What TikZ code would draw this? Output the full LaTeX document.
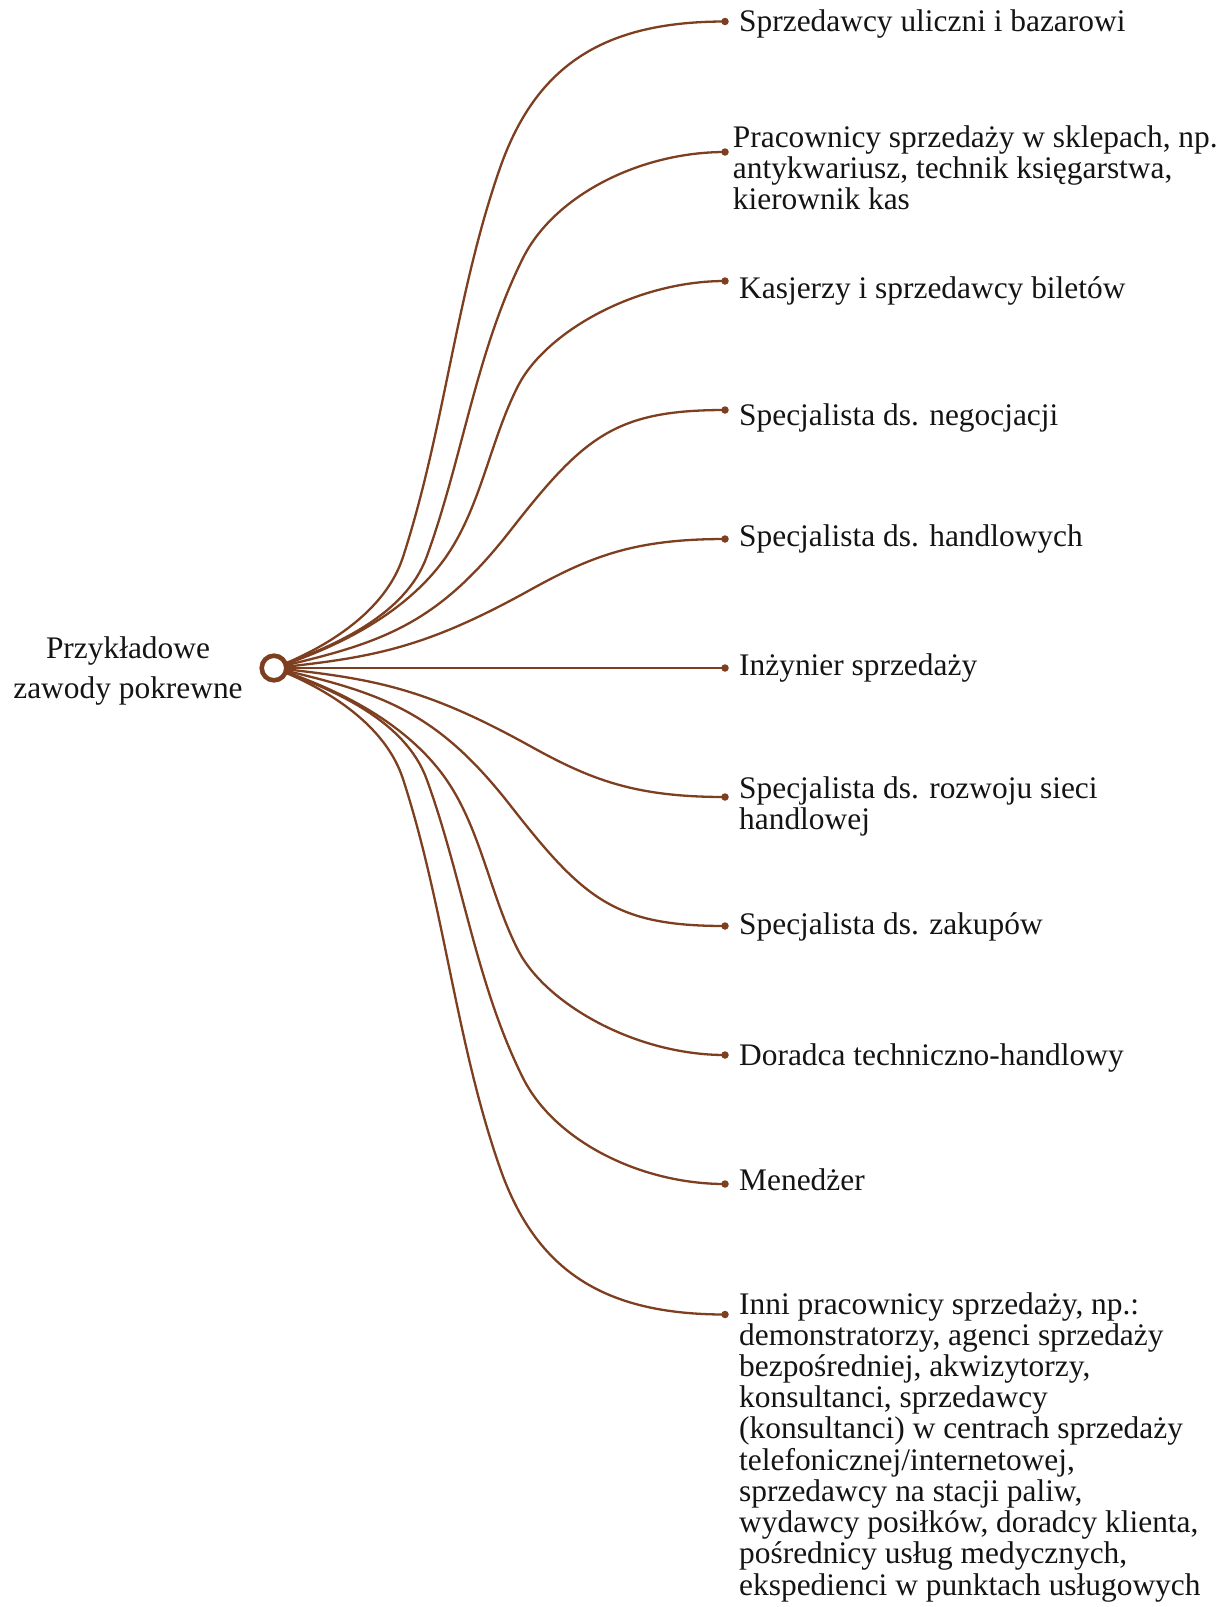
\documentclass[tikz,border=0pt]{standalone}
\usepackage{fontspec}
\setmainfont{Liberation Serif}
\definecolor{brn}{RGB}{125,63,31}
\definecolor{ink}{RGB}{20,20,20}
\begin{document}
\begin{tikzpicture}[x=1pt,y=-1pt,
  edge/.style={draw=brn, line width=2.3pt},
  leafdot/.style={circle, fill=brn, inner sep=0pt, minimum size=7.5pt},
  ring/.style={circle, draw=brn, fill=white, line width=4.6pt, inner sep=0pt, minimum size=24.6pt},
  leaf/.style={anchor=base west, inner sep=0pt, text=ink, font=\fontsize{31.4}{31.2}\selectfont},
  rootlbl/.style={anchor=base, inner sep=0pt, text=ink, font=\fontsize{31.4}{40}\selectfont}]
\useasboundingbox (0,0) rectangle (1227,1607);
\coordinate (root) at (274,668);
% leaf dots
\node[leafdot] (e1) at (725,21.5) {};
\node[leafdot] (e2) at (725,152) {};
\node[leafdot] (e3) at (725,281) {};
\node[leafdot] (e4) at (725,410) {};
\node[leafdot] (e5) at (725,539) {};
\node[leafdot] (e6) at (725,668) {};
\node[leafdot] (e7) at (725,797) {};
\node[leafdot] (e8) at (725,926) {};
\node[leafdot] (e9) at (725,1055) {};
\node[leafdot] (e10) at (725,1184) {};
\node[leafdot] (e11) at (725,1314.5) {};
% edges (upper)
\draw[edge] (root) .. controls (327.2,647.6) and (385.4,611.2) .. (403,557)
  .. controls (444.4,429.6) and (455.8,294.5) .. (500,168)
  .. controls (536.3,64.2) and (605,21.5) .. (e1.center);
\draw[edge] (root) .. controls (333.2,646.5) and (405.2,615.9) .. (426.7,556.7)
  .. controls (462.6,458) and (476.1,351.9) .. (523,258)
  .. controls (554.3,195.4) and (640,152) .. (e2.center);
\draw[edge] (root) .. controls (335.8,647.9) and (400,616.2) .. (440,565)
  .. controls (480,513.8) and (488.5,443.9) .. (518,386)
  .. controls (545.2,332.5) and (635,281) .. (e3.center);
\draw[edge] (root) .. controls (381.1,643.3) and (436.1,625.6) .. (510,531)
  .. controls (583.9,436.4) and (615,410) .. (e4.center);
\draw[edge] (root) .. controls (373.5,657.5) and (425,648.2) .. (530,590)
  .. controls (591.3,556) and (635,539) .. (e5.center);
\draw[edge] (root) -- (e6.center);
% edges (lower)
\draw[edge] (root) .. controls (373.5,678.5) and (425,687.8) .. (530,746)
  .. controls (591.3,780) and (635,797) .. (e7.center);
\draw[edge] (root) .. controls (381.1,692.7) and (436.1,710.4) .. (510,805)
  .. controls (583.9,899.6) and (615,926) .. (e8.center);
\draw[edge] (root) .. controls (335.8,688.1) and (400,719.8) .. (440,771)
  .. controls (480,822.2) and (488.5,892.1) .. (518,950)
  .. controls (545.2,1003.5) and (635,1055) .. (e9.center);
\draw[edge] (root) .. controls (333.2,689.5) and (405.2,720.1) .. (426.7,779.3)
  .. controls (462.6,878) and (476.1,984.1) .. (523,1078)
  .. controls (554.3,1140.6) and (640,1184) .. (e10.center);
\draw[edge] (root) .. controls (327.2,688.4) and (385.4,724.8) .. (403,779)
  .. controls (444.4,906.4) and (455.8,1041.5) .. (500,1168)
  .. controls (536.3,1271.8) and (605,1314.5) .. (e11.center);
% root ring
\node[ring] (rootring) at (root) {};
\node[rootlbl] (lbl) at (128,658.3) {\begin{tabular}[t]{@{}c@{}}Przykładowe\\zawody pokrewne\end{tabular}};
% leaf texts
\node[leaf] (t1) at (739,31.5) {Sprzedawcy uliczni i bazarowi};
\node[leaf] (t2) at (732.7,147.3) {\begin{tabular}[t]{@{}l@{}}Pracownicy sprzedaży w sklepach, np.\\antykwariusz, technik księgarstwa,\\kierownik kas\end{tabular}};
\node[leaf] (t3) at (739,298) {Kasjerzy i sprzedawcy biletów};
\node[leaf] (t4) at (739,425.7) {Specjalista ds. negocjacji};
\node[leaf] (t5) at (739,546.7) {Specjalista ds. handlowych};
\node[leaf] (t6) at (739,675) {Inżynier sprzedaży};
\node[leaf] (t7) at (739,798) {\begin{tabular}[t]{@{}l@{}}Specjalista ds. rozwoju sieci\\handlowej\end{tabular}};
\node[leaf] (t8) at (739,934.7) {Specjalista ds. zakupów};
\node[leaf] (t9) at (739,1065.7) {Doradca techniczno-handlowy};
\node[leaf] (t10) at (739,1190.7) {Menedżer};
\node[leaf] (t11) at (739,1314) {\begin{tabular}[t]{@{}l@{}}Inni pracownicy sprzedaży, np.:\\demonstratorzy, agenci sprzedaży\\bezpośredniej, akwizytorzy,\\konsultanci, sprzedawcy\\(konsultanci) w centrach sprzedaży\\telefonicznej/internetowej,\\sprzedawcy na stacji paliw,\\wydawcy posiłków, doradcy klienta,\\pośrednicy usług medycznych,\\ekspedienci w punktach usługowych\end{tabular}};
\end{tikzpicture}
\end{document}
